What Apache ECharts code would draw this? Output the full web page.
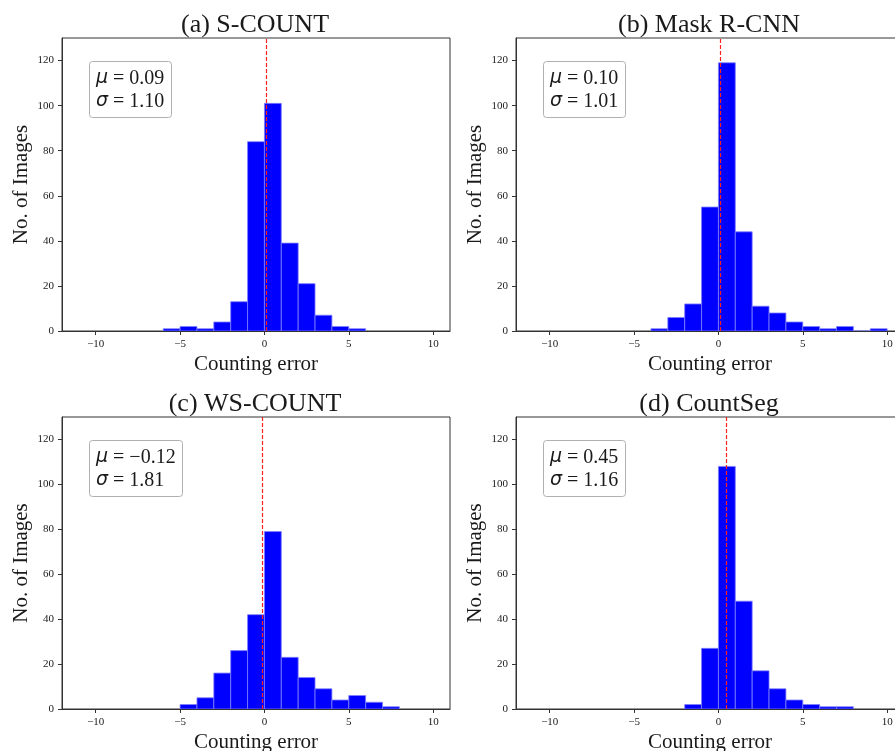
<!DOCTYPE html>
<html>
<head>
<meta charset="utf-8">
<script src="https://cdn.jsdelivr.net/npm/echarts@6/dist/echarts.min.js"></script>
<style>
  html, body { margin: 0; padding: 0; background: #fff; }
  #chart { width: 895px; height: 751px; }
</style>
</head>
<body>
<div id="chart"></div>
<script>
// Histograms of per-image counting error (unit-width bins) for four methods.
const panelTitles = ['(a) S-COUNT', '(b) Mask R-CNN', '(c) WS-COUNT', '(d) CountSeg'];

// First bin edge for each histogram; every bin is 1 wide.
const binStarts = [-6, -4, -5, -2];

// Number of images per bin.
const countsSCount   = [1, 2, 1, 4, 13, 84, 101, 39, 21, 7, 2, 1];
const countsMaskRcnn = [1, 6, 12, 55, 119, 44, 11, 8, 4, 2, 1, 2, 0, 1];
const countsWsCount  = [2, 5, 16, 26, 42, 79, 23, 14, 9, 4, 6, 3, 1];
const countsCountSeg = [2, 27, 108, 48, 17, 9, 4, 2, 1, 1];

// Mean and standard deviation of the counting error.
const means = [0.09, 0.10, -0.12, 0.45];
const stds  = [1.10, 1.01, 1.81, 1.16];

// Axis ranges and tick labels.
const xRange = [-12, 11];
const yRange = [0, 130];
const xTicks = [-10, -5, 0, 5, 10];
const yTicks = [0, 20, 40, 60, 80, 100, 120];

const allCounts = [countsSCount, countsMaskRcnn, countsWsCount, countsCountSeg];

const SERIF = '"Liberation Serif", "DejaVu Serif", serif';
const INK = '#1a1a1a';

// Plot-area boxes for the 2x2 layout (right column runs past the page edge).
const gridBoxes = [
  { left: 62,  top: 38,  width: 388, height: 293 },
  { left: 516, top: 38,  width: 388, height: 293 },
  { left: 62,  top: 417, width: 388, height: 292 },
  { left: 516, top: 417, width: 388, height: 292 }
];

const fmtSigned = v => (v < 0 ? '\u2212' + Math.abs(v) : String(v));
const fmtFixed = v => (v < 0 ? '\u2212' + Math.abs(v).toFixed(2) : v.toFixed(2));

const grids = [], xAxes = [], yAxes = [], series = [], titles = [];

gridBoxes.forEach((box, i) => {
  grids.push(Object.assign({
    show: true, borderColor: '#333', borderWidth: 1,
    backgroundColor: 'transparent', containLabel: false,
    outerBoundsMode: 'none'
  }, box));

  xAxes.push({
    type: 'value', gridIndex: i, min: xRange[0], max: xRange[1],
    name: 'Counting error', nameLocation: 'middle', nameGap: 23,
    nameTextStyle: { fontFamily: SERIF, fontSize: 21, color: INK },
    axisLine: { show: true, onZero: false, lineStyle: { color: '#333', width: 1 } },
    axisTick: { show: true, length: 4, lineStyle: { color: '#333' }, customValues: xTicks },
    axisLabel: {
      customValues: xTicks, formatter: fmtSigned, margin: 8,
      fontFamily: SERIF, fontSize: 11, color: INK
    },
    splitLine: { show: false }
  });

  yAxes.push({
    type: 'value', gridIndex: i, min: yRange[0], max: yRange[1],
    name: 'No. of Images', nameLocation: 'middle', nameGap: 30, nameRotate: 90,
    nameTextStyle: { fontFamily: SERIF, fontSize: 21, color: INK },
    axisLine: { show: true, onZero: false, lineStyle: { color: '#333', width: 1 } },
    axisTick: { show: true, length: 4, lineStyle: { color: '#333' }, customValues: yTicks },
    axisLabel: {
      customValues: yTicks, margin: 8,
      fontFamily: SERIF, fontSize: 11, color: INK
    },
    splitLine: { show: false }
  });

  const bins = allCounts[i].map((c, k) => [binStarts[i] + k, binStarts[i] + k + 1, c]);

  series.push({
    type: 'custom', xAxisIndex: i, yAxisIndex: i, data: bins,
    encode: { x: [0, 1], y: 2 },
    clip: true,
    renderItem: (params, api) => {
      const lo = api.coord([api.value(0), 0]);
      const hi = api.coord([api.value(1), api.value(2)]);
      return {
        type: 'rect',
        shape: { x: lo[0], y: hi[1], width: hi[0] - lo[0], height: lo[1] - hi[1] },
        style: { fill: '#0000ff', stroke: '#7f7fff', lineWidth: 0.8 }
      };
    },
    markLine: {
      silent: true, symbol: 'none', animation: false,
      label: { show: false },
      lineStyle: { color: '#ff2020', type: [4, 2], width: 1.2 },
      data: [{ xAxis: means[i] }]
    },
    animation: false
  });

  // Panel heading
  titles.push({
    text: panelTitles[i],
    left: box.left + 188, top: box.top - 31, textAlign: 'center',
    textStyle: { fontFamily: SERIF, fontSize: 26, fontWeight: 'normal', color: INK }
  });

  // Statistics box in the upper-left corner of the plot
  titles.push({
    text: '{m|\u03bc} = ' + fmtFixed(means[i]) + '\n{m|\u03c3} = ' + fmtFixed(stds[i]),
    left: box.left + 27, top: box.top + 23,
    padding: [6, 7, 5, 7],
    borderColor: '#b0b0b0', borderWidth: 1, borderRadius: 3,
    backgroundColor: '#fff',
    textStyle: {
      fontFamily: SERIF, fontSize: 20, fontWeight: 'normal', color: INK, lineHeight: 23,
      rich: { m: { fontFamily: '"DejaVu Sans", sans-serif', fontStyle: 'italic', fontSize: 19, color: INK, lineHeight: 23 } }
    }
  });
});

const chart = echarts.init(document.getElementById('chart'), null, { renderer: 'canvas' });
chart.setOption({
  animation: false,
  backgroundColor: '#fff',
  title: titles,
  grid: grids,
  xAxis: xAxes,
  yAxis: yAxes,
  series: series
});
</script>
</body>
</html>
